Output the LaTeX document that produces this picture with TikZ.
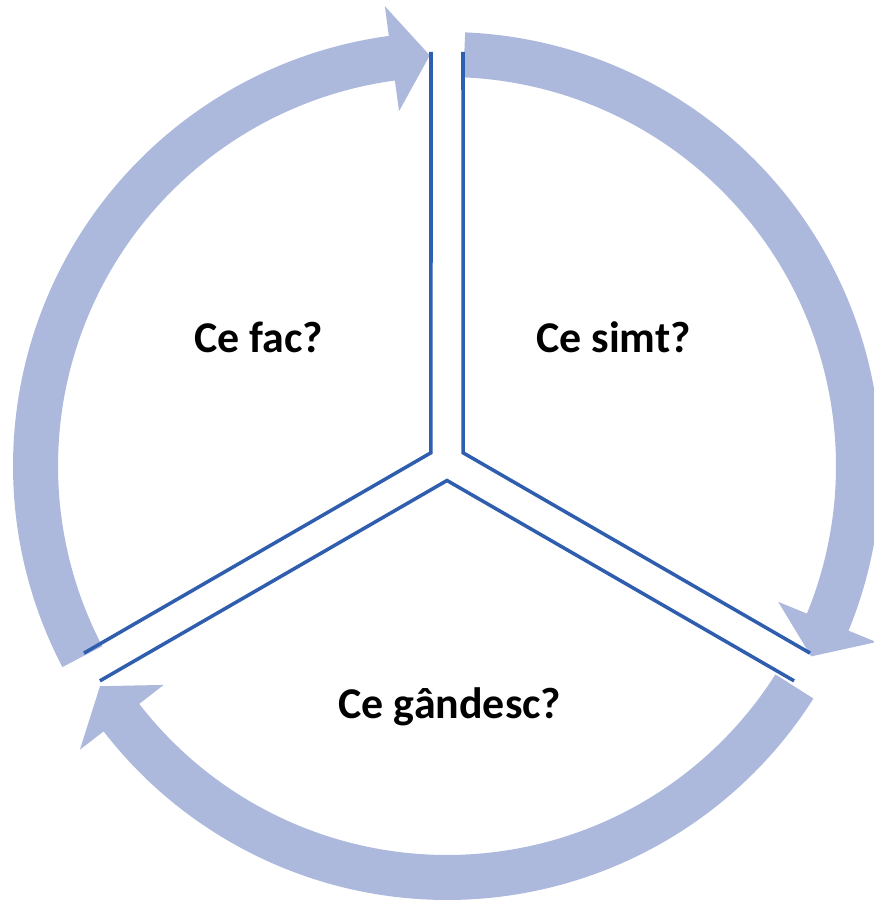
\documentclass[tikz,border=0pt]{standalone}
\usepackage{fontspec}
\setmainfont{Carlito}
\definecolor{ringfill}{RGB}{172, 185, 220}
\definecolor{divline}{RGB}{47, 94, 174}
\usetikzlibrary{positioning, calc}

\begin{document}
\begin{tikzpicture}[
        x=0.02cm, y=0.02cm,
        ringarrow/.style={fill=ringfill, draw=none},
        divider/.style={draw=divline, line width=2pt, line join=miter},
        label/.style={font=\fontsize{25}{30}\selectfont\bfseries, anchor=base, inner sep=0pt}
    ]
        \useasboundingbox (-447,-435) rectangle (427,466);
        \coordinate (ctr) at (0,4);

        % Cycle: three block arcs, each ending in an arrowhead
        \foreach \a in {87.6, -32.4, -152.4} {
            \pgfmathsetmacro\b{\a-115.2}
            \pgfmathsetmacro\h{\b+5.3}
            \fill[ringarrow] (\a:434) arc[start angle=\a, end angle=\h, radius=434]
                -- (\h:464) -- (\b:411) -- (\h:358) -- (\h:389)
                arc[start angle=\h, end angle=\a, radius=389] -- cycle;
        }

        % Dividers between the three parts
        \foreach \d in {90, -30, -150} {
            \draw[divider] ($(ctr)+(\d:410)+(\d-90:16)$) -- ($(ctr)+(\d-60:18.5)$)
                -- ($(ctr)+(\d-120:410)+(\d-30:16)$);
        }

        % Labels
        \node[label] (fac) at (-188.5,113) {Ce fac?};
        \node[label] (simt) at (166.5,113) {Ce simt?};
        \node[label] (gandesc) at (3,-253) {Ce gândesc?};
    \end{tikzpicture}
\end{document}
